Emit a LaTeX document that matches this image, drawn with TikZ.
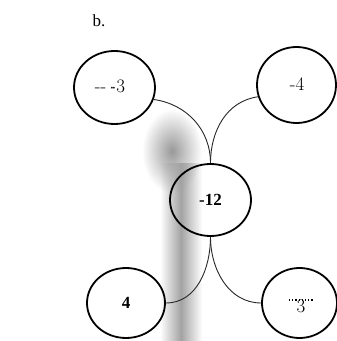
\documentclass[tikz,border=0pt]{standalone}
\usepackage{fontspec}
\setmainfont{Liberation Serif}
\newfontfamily\handfont{Latin Modern Roman}
\usetikzlibrary{shapes.geometric,fadings}
\tikzfading[name=softround, inner color=transparent!0, outer color=transparent!100]
\tikzfading[name=softsides, left color=transparent!100, right color=transparent!100, middle color=transparent!0]
\begin{document}
\begin{tikzpicture}[x=1pt,y=1pt,
  bubble/.style={draw=black, line width=1.8pt, ellipse, inner sep=0pt},
  printed/.style={font=\fontsize{17}{17}\selectfont\bfseries},
  hand/.style={font=\handfont\fontsize{19}{19}\selectfont},
  link/.style={line width=0.9pt, black!85}]
\useasboundingbox (0,0) rectangle (337,341);
% scan smudge
\fill[black!40, path fading=softround] (172,190) ellipse (30 and 42);
\fill[black!36, path fading=softsides] (160,0) rectangle (202,178);
% label
\node[font=\fontsize{17}{17}\selectfont] (lbl) at (99,320) {b.};
% nodes
\node[bubble, minimum width=81pt, minimum height=73pt] (tl) at (114.5,253.5) {};
\node[bubble, minimum width=79pt, minimum height=76pt] (tr) at (296.5,256) {};
\node[bubble, minimum width=81pt, minimum height=72pt, printed] (c) at (210.5,141) {-12};
\node[bubble, minimum width=78pt, minimum height=70pt, printed] (bl) at (126,38) {4};
\node[bubble, minimum width=75pt, minimum height=70pt] (br) at (299.5,38) {};
% handwritten entries
\node[hand] (tlt) at (110,255) {--\,$\cdot\!\cdot$3};
\node[hand] (trt) at (297,257) {-4};
\node[hand] (brt) at (301,35) {3};
\draw[dotted, line width=1.2pt] (289,41) -- (313,41);
% connectors
\draw[link] (tl.-17) to[out=-8, in=90] (c.north);
\draw[link] (tr.197) to[out=188, in=90] (c.north);
\draw[link] (c.south) to[out=-90, in=0] (bl.east);
\draw[link] (c.south) to[out=-90, in=180] (br.west);
\end{tikzpicture}
\end{document}
